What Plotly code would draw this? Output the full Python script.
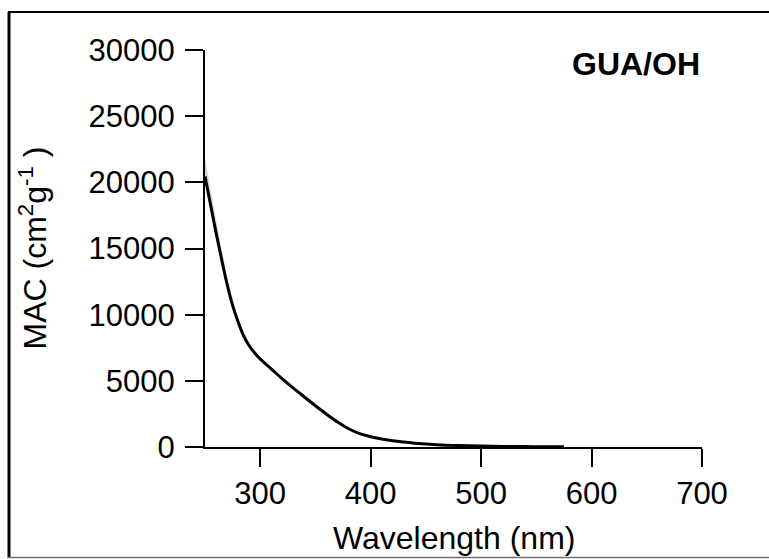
import plotly.graph_objects as go

# Mass absorption cross-section spectrum, GUA/OH
wavelength = [250, 255, 260, 265, 270, 275, 280, 285, 290, 295, 300, 310, 320, 330,
              340, 350, 360, 370, 380, 390, 400, 410, 420, 430, 440, 460, 480,
              500, 520, 540, 560, 575]
mac = [20450, 18300, 16200, 14200, 12300, 10700, 9450, 8400, 7650, 7100, 6650, 5900,
       5150, 4450, 3780, 3120, 2480, 1880, 1380, 1010, 780, 610, 470, 370, 290,
       175, 110, 70, 45, 30, 20, 15]
# spread of the replicate spectra (upper / lower envelope)
mac_hi = [21900, 19500, 17200, 15000, 12950, 11200, 9850, 8700, 7880, 7260, 6790, 5990,
          5210, 4490, 3810, 3140, 2495, 1890, 1387, 1015, 784, 612, 471, 371, 290,
          175, 110, 70, 45, 30, 20, 15]
mac_lo = [20150, 17950, 15850, 13850, 12000, 10450, 9250, 8250, 7530, 7000, 6570, 5840,
          5100, 4410, 3750, 3100, 2465, 1870, 1373, 1005, 776, 608, 469, 369, 290,
          175, 110, 70, 45, 30, 20, 15]

x_ticks = [300, 400, 500, 600, 700]
y_ticks = [0, 5000, 10000, 15000, 20000, 25000, 30000]

FONT = "Arial, Liberation Sans, sans-serif"

fig = go.Figure()
fig.add_trace(go.Scatter(x=wavelength, y=mac_hi, mode="lines",
                         line=dict(width=0, shape="spline"), hoverinfo="skip",
                         showlegend=False))
fig.add_trace(go.Scatter(x=wavelength, y=mac_lo, mode="lines",
                         line=dict(width=0, shape="spline"), fill="tonexty",
                         fillcolor="rgba(200,200,200,0.75)",
                         hoverinfo="skip", showlegend=False))
fig.add_trace(go.Scatter(x=wavelength, y=mac, mode="lines",
                         line=dict(color="black", width=3, shape="spline", smoothing=1.0),
                         showlegend=False))

axis_common = dict(showgrid=False, zeroline=False, showline=True, linecolor="black",
                   linewidth=2, ticks="outside", ticklen=18, tickwidth=2,
                   tickcolor="black", tickfont=dict(family=FONT, size=31, color="black"))

fig.update_xaxes(range=[250, 700], tickvals=x_ticks,
                 ticktext=[str(v) for v in x_ticks], **axis_common)
fig.update_yaxes(range=[0, 30000], tickvals=y_ticks, ticklabelstandoff=4,
                 ticktext=[str(v) for v in y_ticks], **axis_common)

W, H = 769, 559
L, R, T, B = 205, 67, 50, 112
pw, ph = W - L - R, H - T - B


def px(x):
    return (x - L) / pw


def py(y):
    return (H - B - y) / ph


fig.update_layout(
    width=W, height=H,
    margin=dict(l=L, r=R, t=T, b=B, pad=0),
    paper_bgcolor="white", plot_bgcolor="white",
    font=dict(family=FONT, color="black"),
    annotations=[
        dict(text="<b>GUA/OH</b>", xref="paper", yref="paper", x=1.0, y=py(64),
             xanchor="right", yanchor="middle", showarrow=False,
             font=dict(size=32, family=FONT)),
        dict(text="Wavelength (nm)", xref="paper", yref="paper", x=0.5, y=py(538),
             xanchor="center", yanchor="middle", showarrow=False,
             font=dict(size=32, family=FONT)),
        dict(text="MAC (cm<sup>2</sup>g<sup>-1</sup> )", xref="paper", yref="paper",
             x=px(32), y=0.5, xanchor="center", yanchor="middle", textangle=-90,
             showarrow=False, font=dict(size=32, family=FONT)),
    ],
    shapes=[
        dict(type="line", xref="paper", yref="paper", x0=px(9), x1=px(9),
             y0=py(12), y1=py(558), line=dict(color="black", width=3)),
        dict(type="line", xref="paper", yref="paper", x0=px(8), x1=px(769),
             y0=py(12), y1=py(12), line=dict(color="black", width=2)),
        dict(type="line", xref="paper", yref="paper", x0=px(8), x1=px(769),
             y0=py(557.5), y1=py(557.5), line=dict(color="#707070", width=1.5)),
    ],
)

fig.write_html("out.html")
